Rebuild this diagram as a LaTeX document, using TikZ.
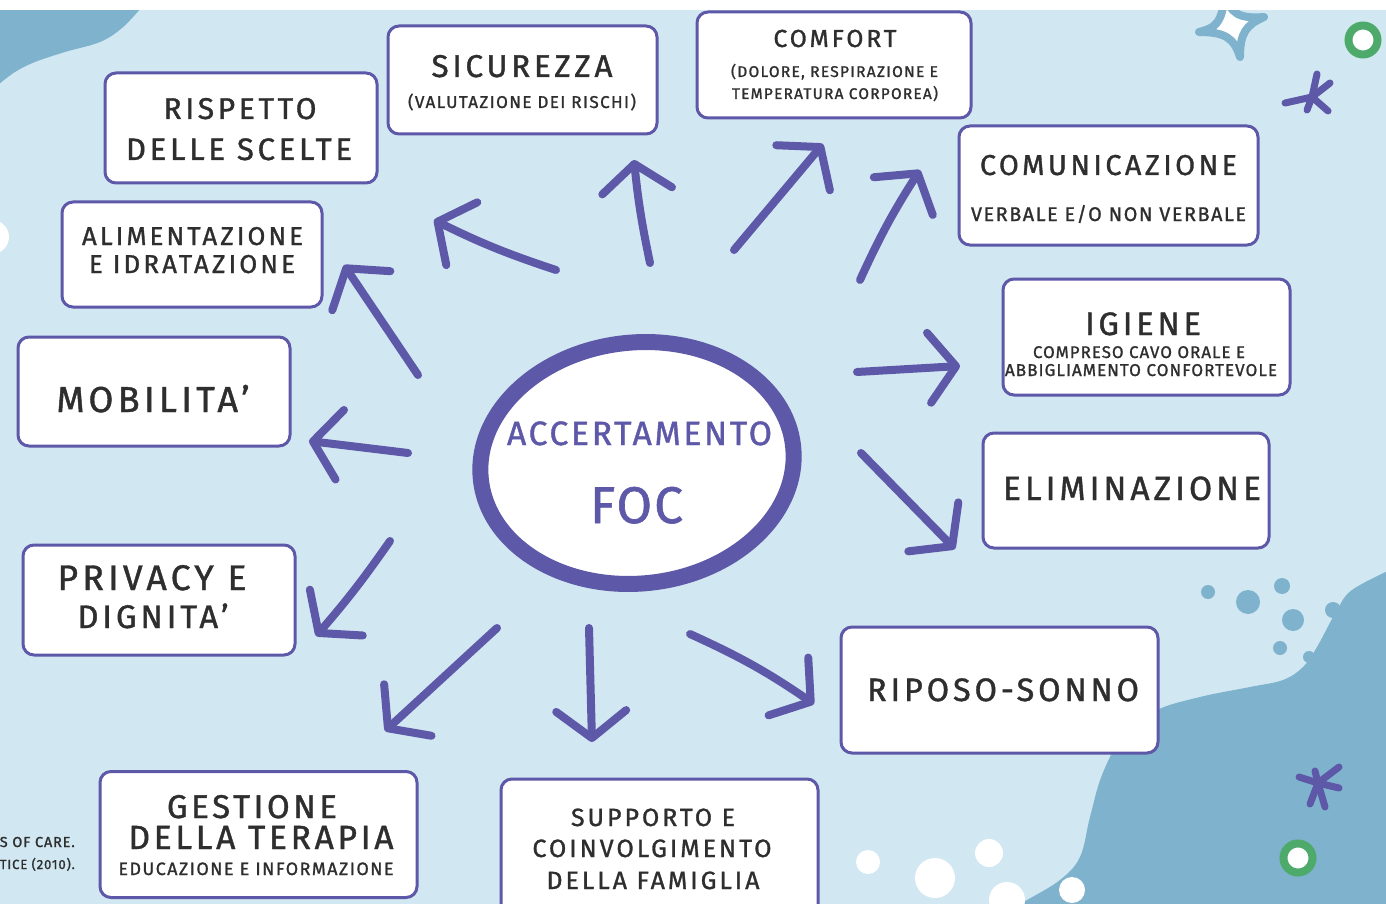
\documentclass[tikz,border=0pt]{standalone}
\usepackage{fontspec}
\setmainfont{Fira Sans}
\usepackage{graphicx}
\usetikzlibrary{arrows.meta,shapes.geometric}
\definecolor{bg}{HTML}{D1E7F2}
\definecolor{blob}{HTML}{7FB2CC}
\definecolor{pur}{HTML}{5E58A8}
\definecolor{grn}{HTML}{4DAA6A}
\definecolor{ink}{HTML}{2E2E2E}
\newcommand\T[3][12]{\resizebox{#2pt}{!}{\addfontfeature{LetterSpace=#1,FakeBold=1.2}#3}}
\begin{document}
\begin{tikzpicture}[x=1pt,y=-1pt,
  box/.style={draw=pur, line width=3pt, fill=white, rounded corners=11pt, inner sep=0pt},
  txt/.style={anchor=base, inner sep=0pt, text=ink},
  ctxt/.style={anchor=base, inner sep=0pt, text=pur},
  arr/.style={draw=pur, line width=8pt, line cap=round, line join=round,
    -{Straight Barb[length=27pt,width=70pt,round]}},
  deco/.style={line width=7pt, line cap=round}]
\clip (0,0) rectangle (1386,904);
% background
\fill[bg] (0,0) rectangle (1386,904);
\fill[blob] plot[smooth, tension=0.6] coordinates {(141,8) (122,28) (100,42) (65,52) (35,62) (15,72) (-2,85)} -- (-2,8) -- cycle;
\fill[blob] plot[smooth, tension=0.6] coordinates {(1390,570) (1352,590) (1337,610) (1317,647) (1303,667) (1283,680) (1250,687) (1200,697) (1155,711) (1122,738) (1102,775) (1090,817) (1080,857) (1060,880) (1027,900) (1015,906)} -- (1390,906) -- cycle;
% blue dots
\foreach \p/\r in {(1208,592)/7, (1248,602)/12, (1282,586)/8, (1293,620)/11, (1280,648)/7, (1309,657)/6, (1333,610)/8}
  \fill[blob] \p circle (\r);
% white dots
\foreach \p/\r in {(868,862)/12, (935,878)/20, (989,853)/14, (1007,900)/18, (1072,890)/13}
  \fill[white] \p circle (\r);
\fill[white] (-8,237) circle (17);
% star
\draw[blob, line width=8pt, fill=white, line join=round]
  (1199,32) .. controls (1215,28) and (1222,24) .. (1225,-6)
  .. controls (1230,14) and (1240,19) .. (1264,17)
  .. controls (1246,25) and (1240,33) .. (1240,57)
  .. controls (1234,38) and (1225,32) .. cycle;
% green rings
\draw[grn, line width=8pt, fill=white] (1363,40) circle (14.5);
\draw[grn, line width=8pt, fill=white] (1298,858) circle (14.5);
% asterisks
\draw[pur, deco] (1312,97) -- (1317,74);
\draw[pur, deco] (1312,97) -- (1330,83);
\draw[pur, deco] (1312,97) -- (1285,103);
\draw[pur, deco] (1312,97) -- (1328,111);
\draw[pur, deco] (1312,97) -- (1307,110);
\draw[pur, deco] (1318,783) -- (1299,777);
\draw[pur, deco] (1318,783) -- (1339,767);
\draw[pur, deco] (1318,783) -- (1339,788);
\draw[pur, deco] (1318,783) -- (1310,804);
\draw[pur, deco] (1318,783) -- (1325,807);
\draw[pur, deco] (1318,783) -- (1315,771);
% white strip at top
\fill[white] (0,0) rectangle (1386,10);

% boxes
\node[box, minimum width=272pt, minimum height=110pt] (risp) at (241,128) {};
\node[box, minimum width=269pt, minimum height=108pt] (sicu) at (522.5,80) {};
\node[box, minimum width=274pt, minimum height=106pt] (comf) at (834,65) {};
\node[box, minimum width=299pt, minimum height=119pt] (comu) at (1108.5,185.5) {};
\node[box, minimum width=260pt, minimum height=105pt] (alim) at (192,254.5) {};
\node[box, minimum width=287pt, minimum height=116pt] (igie) at (1146.5,337) {};
\node[box, minimum width=272pt, minimum height=109pt] (mobi) at (154,391.5) {};
\node[box, minimum width=286pt, minimum height=115pt] (elim) at (1126,490.5) {};
\node[box, minimum width=272pt, minimum height=110pt] (priv) at (159,600) {};
\node[box, minimum width=317pt, minimum height=126pt] (ripo) at (999.5,690) {};
\node[box, minimum width=317pt, minimum height=126pt] (gest) at (258.5,834.5) {};
\node[box, minimum width=317pt, minimum height=140pt] (supp) at (659.5,849) {};

% texts
\node[txt] (risp-a) at (240,119) {\T{153}{RISPETTO}};
\node[txt] (risp-b) at (239,160) {\T{226}{DELLE SCELTE}};
\node[txt] (sicu-a) at (522,77) {\T{181}{SICUREZZA}};
\node[txt] (sicu-b) at (522,108) {\T[8]{228}{(VALUTAZIONE DEI RISCHI)}};
\node[txt] (comf-a) at (835,47) {\T{123}{COMFORT}};
\node[txt] (comf-b) at (834.5,77) {\T[8]{207}{(DOLORE, RESPIRAZIONE E}};
\node[txt] (comf-c) at (835,99) {\T[8]{206}{TEMPERATURA CORPOREA)}};
\node[txt] (comu-a) at (1108.5,175) {\T{257}{COMUNICAZIONE}};
\node[txt] (comu-b) at (1108.5,221) {\T[8]{275}{VERBALE E/O NON VERBALE}};
\node[txt] (alim-a) at (192.5,245) {\T{221}{ALIMENTAZIONE}};
\node[txt] (alim-b) at (192,273) {\T{206}{E IDRATAZIONE}};
\node[txt] (igie-a) at (1143,335) {\T{116}{IGIENE}};
\node[txt] (igie-b) at (1139,358) {\T[6]{212}{COMPRESO CAVO ORALE E}};
\node[txt] (igie-c) at (1141,376) {\T[6]{272}{ABBIGLIAMENTO CONFORTEVOLE}};
\node[txt] (mobi-a) at (153,412) {\T{193}{MOBILITA'}};
\node[txt] (elim-a) at (1132,500) {\T{258}{ELIMINAZIONE}};
\node[txt] (priv-a) at (152,590) {\T{189}{PRIVACY E}};
\node[txt] (priv-b) at (153,628) {\T{151}{DIGNITA'}};
\node[txt] (ripo-a) at (1003,701) {\T{272}{RIPOSO-SONNO}};
\node[txt] (gest-a) at (252,818) {\T[11]{170}{GESTIONE}};
\node[txt] (gest-b) at (261,849) {\T[11]{265}{DELLA TERAPIA}};
\node[txt] (gest-c) at (256,875) {\T[8]{275}{EDUCAZIONE E INFORMAZIONE}};
\node[txt] (supp-a) at (653,826) {\T{164}{SUPPORTO E}};
\node[txt] (supp-b) at (652,857) {\T{239}{COINVOLGIMENTO}};
\node[txt] (supp-c) at (653,889) {\T{213}{DELLA FAMIGLIA}};
\node[txt, anchor=base east] (ref-a) at (75,847) {\T[6]{75}{S OF CARE.}};
\node[txt, anchor=base east] (ref-b) at (75,869) {\T[6]{75}{TICE (2010).}};

% centre
\node[ellipse, draw=pur, line width=16pt, fill=white, minimum width=314pt, minimum height=241pt, inner sep=0pt, rotate=6] (foc) at (637,463) {};
\node[ctxt] (foc-a) at (639.5,445) {\T[8]{265}{ACCERTAMENTO}};
\node[ctxt] (foc-b) at (636.5,523) {\T[4]{93}{FOC}};

% arrow ends
\coordinate (s1) at (556,270);  \coordinate (e1) at (434,220);
\coordinate (s2) at (650,263);  \coordinate (e2) at (634,160);
\coordinate (s3) at (734,250);  \coordinate (e3) at (823,144);
\coordinate (s4) at (860,280);  \coordinate (e4) at (920,170);
\coordinate (s5) at (418,375);  \coordinate (e5) at (344,265);
\coordinate (s6) at (857,372);  \coordinate (e6) at (960,366);
\coordinate (s7) at (408,453);  \coordinate (e7) at (309,441);
\coordinate (s8) at (861,453);  \coordinate (e8) at (955,549);
\coordinate (s9) at (390,541);  \coordinate (e9) at (316,636);
\coordinate (s10) at (497,628); \coordinate (e10) at (385,731);
\coordinate (s11) at (589,628); \coordinate (e11) at (592,742);
\coordinate (s12) at (690,634); \coordinate (e12) at (814,704);

\draw[arr] (s1) to[bend left=4] (e1);
\draw[arr] (s2) to[bend left=3] (e2);
\draw[arr] (s3) -- (e3);
\draw[arr] (s4) to[bend left=4] (e4);
\draw[arr] (s5) -- (e5);
\draw[arr] (s6) -- (e6);
\draw[arr] (s7) -- (e7);
\draw[arr] (s8) -- (e8);
\draw[arr] (s9) to[bend left=3] (e9);
\draw[arr] (s10) -- (e10);
\draw[arr] (s11) -- (e11);
\draw[arr] (s12) to[bend left=5] (e12);
\end{tikzpicture}
\end{document}
